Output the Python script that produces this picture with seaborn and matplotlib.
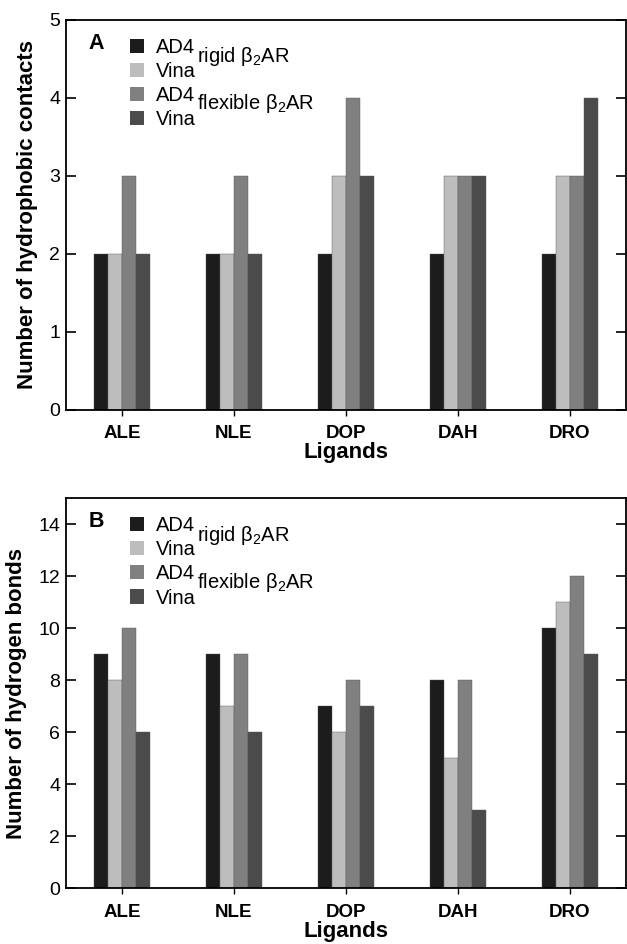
import matplotlib
matplotlib.use('Agg')
import matplotlib.pyplot as plt
from matplotlib.patches import Patch
import seaborn as sns
import pandas as pd

ligands = ['ALE', 'NLE', 'DOP', 'DAH', 'DRO']
series = ['AD4 rigid', 'Vina rigid', 'AD4 flexible', 'Vina flexible']
series_short = ['AD4', 'Vina', 'AD4', 'Vina']
colors = ['#1c1c1c', '#bdbdbd', '#808080', '#4b4b4b']

hydrophobic = {
    'AD4 rigid':     [2, 2, 2, 2, 2],
    'Vina rigid':    [2, 2, 3, 3, 3],
    'AD4 flexible':  [3, 3, 4, 3, 3],
    'Vina flexible': [2, 2, 3, 3, 4],
}
hbonds = {
    'AD4 rigid':     [9, 9, 7, 8, 10],
    'Vina rigid':    [8, 7, 6, 5, 11],
    'AD4 flexible':  [10, 9, 8, 8, 12],
    'Vina flexible': [6, 6, 7, 3, 9],
}


def to_long(values):
    rows = []
    for s in series:
        for lig, v in zip(ligands, values[s]):
            rows.append({'Ligand': lig, 'Series': s, 'Value': v})
    return pd.DataFrame(rows)


sns.set_style('white')
plt.rcParams['font.family'] = ['Liberation Sans', 'DejaVu Sans']
plt.rcParams.update({'text.color': 'black', 'axes.labelcolor': 'black',
                     'xtick.color': 'black', 'ytick.color': 'black'})

fig = plt.figure(figsize=(6.27, 9.44), dpi=100)
ax_a = fig.add_axes([0.105, 0.566, 0.893, 0.413])
ax_b = fig.add_axes([0.105, 0.059, 0.893, 0.413])


def draw_panel(ax, values, ylim, yticks, ylabel, letter):
    df = to_long(values)
    sns.barplot(data=df, x='Ligand', y='Value', hue='Series',
                order=ligands, hue_order=series, palette=colors,
                width=0.5, gap=0, edgecolor='#555555', linewidth=0.3,
                saturation=1, legend=False, ax=ax)
    ax.set_xlim(-0.5, 4.5)
    ax.set_ylim(*ylim)
    ax.set_yticks(yticks)
    ax.set_xlabel('Ligands', fontsize=16, fontweight='bold', labelpad=0)
    ax.set_ylabel(ylabel, fontsize=16, fontweight='bold', labelpad=8)
    ax.tick_params(axis='y', direction='in', length=7, width=1.2,
                   labelsize=14, right=True, left=True, pad=4)
    ax.tick_params(axis='x', direction='out', length=4, width=1,
                   labelsize=13.5, pad=7, bottom=True)
    for lbl in ax.get_xticklabels():
        lbl.set_fontweight('bold')
    for sp in ax.spines.values():
        sp.set_linewidth(1.3)
        sp.set_color('black')

    handles = [Patch(facecolor=c, edgecolor='none') for c in colors]
    ax.legend(handles, series_short, loc='upper left',
              bbox_to_anchor=(0.09, 0.99), frameon=False, fontsize=14.5,
              handlelength=0.7, handleheight=0.7, handletextpad=0.55,
              labelspacing=0.25, borderpad=0.2, labelcolor='black')
    ax.text(0.235, 0.905, r'rigid $\mathregular{\beta_2}$AR', transform=ax.transAxes,
            fontsize=14.5, va='center', ha='left')
    ax.text(0.235, 0.785, r'flexible $\mathregular{\beta_2}$AR', transform=ax.transAxes,
            fontsize=14.5, va='center', ha='left')
    ax.text(0.04, 0.94, letter, transform=ax.transAxes, fontsize=15.5,
            fontweight='bold', va='center', ha='left')


draw_panel(ax_a, hydrophobic, (0, 5), range(0, 6),
           'Number of hydrophobic contacts', 'A')
draw_panel(ax_b, hbonds, (0, 15), range(0, 15, 2),
           'Number of hydrogen bonds', 'B')

fig.savefig('out.png', dpi=100)
